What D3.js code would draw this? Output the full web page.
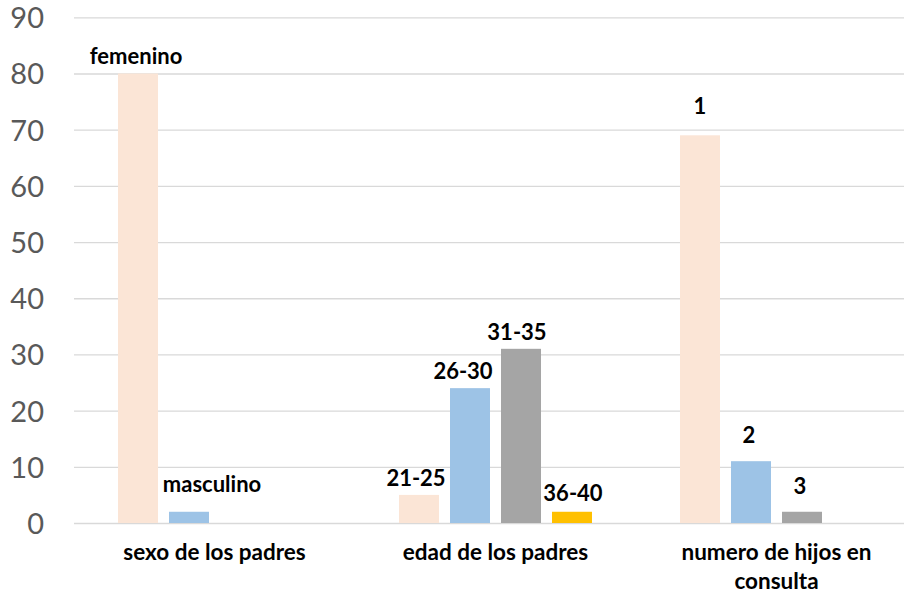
<!DOCTYPE html>
<html>
<head>
<meta charset="utf-8">
<script src="https://cdn.jsdelivr.net/npm/d3@7"></script>
<style>
  html, body { margin: 0; padding: 0; background: #ffffff; }
  svg { display: block; }
</style>
</head>
<body>
<svg id="chart" width="904" height="596"></svg>
<script>
// ---- Data ----
const categories = ["sexo de los padres", "edad de los padres", "numero de hijos en consulta"];
const series1Values = [80, 5, 69];
const series2Values = [2, 24, 11];
const series3Values = [null, 31, 2];
const series4Values = [null, 2, null];
const series1Labels = ["femenino", "21-25", "1"];
const series2Labels = ["masculino", "26-30", "2"];
const series3Labels = [null, "31-35", "3"];
const series4Labels = [null, "36-40", null];
const yTicks = [0, 10, 20, 30, 40, 50, 60, 70, 80, 90];

const seriesValues = [series1Values, series2Values, series3Values, series4Values];
const seriesLabels = [series1Labels, series2Labels, series3Labels, series4Labels];
const seriesColors = ["#FBE5D6", "#9DC3E6", "#A5A5A5", "#FFC000"];

// manual label placement tweaks (as in the reference)
const labelNudge = {
  "femenino": {dx: -2, dy: 0},
  "masculino": {dx: 23, dy: -11},
  "21-25": {dx: -3, dy: 0},
  "26-30": {dx: -7, dy: 0},
  "31-35": {dx: -4, dy: 0},
  "36-40": {dx: 1, dy: -2},
  "1": {dx: 0, dy: -12},
  "2": {dx: -2, dy: -9},
  "3": {dx: -2, dy: -9}
};

const svg = d3.select("#chart");
const plotLeft = 74, plotRight = 917, plotTop = 17.3, plotBottom = 523;
const fontFam = "Lato, 'Open Sans', sans-serif";

const x0 = d3.scaleBand().domain(categories).range([plotLeft, plotRight]).padding(0);
const x1 = d3.scaleBand().domain([0, 1, 2, 3]).range([0, x0.bandwidth()])
  .paddingInner(0.216).paddingOuter(0.863);
const y = d3.scaleLinear().domain([0, 90]).range([plotBottom, plotTop]);

// gridlines + y tick labels
const yAxis = d3.axisLeft(y).tickValues(yTicks).tickSize(-(904 - plotLeft)).tickPadding(30).tickFormat(d3.format("d"));
const gAxis = svg.append("g").attr("transform", `translate(${plotLeft},0)`).call(yAxis);
gAxis.select(".domain").remove();
gAxis.selectAll(".tick line").attr("stroke", "#D9D9D9").attr("stroke-width", 1.3);
gAxis.selectAll(".tick text")
  .attr("fill", "#595959")
  .attr("font-family", fontFam)
  .attr("font-size", "29px")
  .attr("x", -30)
  .attr("dy", "0.36em");

// bars
const flat = [];
categories.forEach((c, ci) => {
  seriesValues.forEach((vals, si) => {
    if (vals[ci] !== null && vals[ci] !== undefined) {
      flat.push({cat: c, si: si, value: vals[ci], label: seriesLabels[si][ci]});
    }
  });
});

svg.append("g").selectAll("rect").data(flat).join("rect")
  .attr("x", d => x0(d.cat) + x1(d.si))
  .attr("y", d => y(d.value))
  .attr("width", x1.bandwidth())
  .attr("height", d => y(0) - y(d.value))
  .attr("fill", d => seriesColors[d.si]);

// data labels
svg.append("g").selectAll("text").data(flat).join("text")
  .attr("x", d => x0(d.cat) + x1(d.si) + x1.bandwidth() / 2 + ((labelNudge[d.label] || {}).dx || 0))
  .attr("y", d => y(d.value) - 9 + ((labelNudge[d.label] || {}).dy || 0))
  .attr("text-anchor", "middle")
  .attr("font-family", fontFam)
  .attr("font-weight", "bold")
  .attr("font-size", "22px")
  .attr("fill", "#000000")
  .text(d => d.label);

// category labels (wrapped)
const catG = svg.append("g");
categories.forEach(c => {
  const cx = x0(c) + x0.bandwidth() / 2;
  const lines = c === "numero de hijos en consulta" ? ["numero de hijos en", "consulta"] : [c];
  const t = catG.append("text")
    .attr("text-anchor", "middle")
    .attr("font-family", fontFam)
    .attr("font-weight", "bold")
    .attr("font-size", "22.5px")
    .attr("fill", "#000000");
  lines.forEach((ln, i) => {
    t.append("tspan").attr("x", cx).attr("y", plotBottom + 37 + i * 29).text(ln);
  });
});
</script>
</body>
</html>
